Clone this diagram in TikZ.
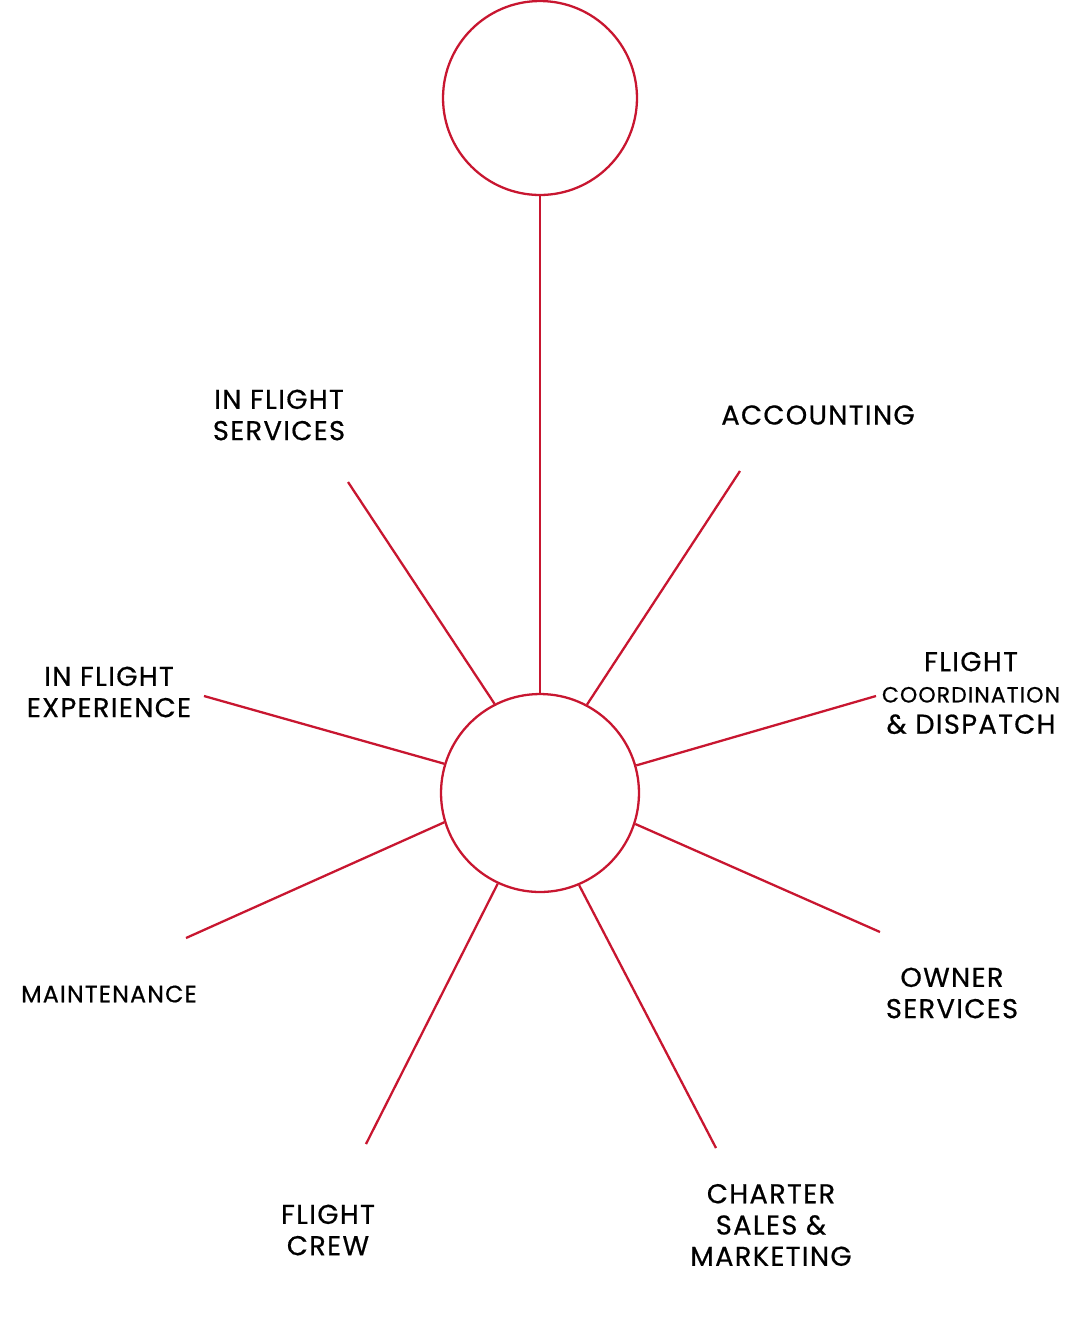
\documentclass[tikz,border=0pt]{standalone}
\usepackage{fontspec}
\setmainfont{Poppins}[FakeBold=0.6, LetterSpace=5]
\usepackage{tikz}
\usetikzlibrary{positioning}

\definecolor{jetred}{RGB}{200,22,48}

\begin{document}
\begin{tikzpicture}[
    x=0.02cm, y=-0.02cm,
    ring/.style={circle, draw=jetred, line width=1.3pt, inner sep=0pt},
    spoke/.style={draw=jetred, line width=1.3pt},
    dept/.style={align=center, font=\fontsize{15.5}{17.8}\selectfont, text=black}
]
\useasboundingbox (0,0) rectangle (1080,1340);

\node[ring, minimum size=3.88cm] (top) at (540,98) {};
\node[ring, minimum size=3.96cm] (hub) at (540,793) {};

% free ends of the spokes
\coordinate (e1) at (348,482);
\coordinate (e2) at (740,471);
\coordinate (e3) at (204,696);
\coordinate (e4) at (876,696);
\coordinate (e5) at (186,938);
\coordinate (e6) at (880,932);
\coordinate (e7) at (366,1144);
\coordinate (e8) at (716,1148);

\node[dept] (services) at (279,415) {IN FLIGHT\\SERVICES};
\node[dept] (accounting) at (818,415) {ACCOUNTING};
\node[dept] (experience) at (109,692) {IN FLIGHT\\EXPERIENCE};
\node[dept] (dispatch) at (971,693) {FLIGHT\\{\fontsize{12.5}{13}\selectfont COORDINATION}\\\& DISPATCH};
\node[dept, font=\fontsize{13.5}{15}\selectfont] (maintenance) at (109,994) {MAINTENANCE};
\node[dept] (owner) at (952,993) {OWNER\\SERVICES};
\node[dept] (crew) at (328,1230) {FLIGHT\\CREW};
\node[dept] (charter) at (771,1225) {CHARTER\\SALES \&\\MARKETING};

\draw[spoke] (top) -- (hub);
\foreach \a/\e in {117.6/e1, 62.4/e2, 163.7/e3, 16.3/e4, 197.4/e5, 342.6/e6, 245.9/e7, 293.5/e8}
    \draw[spoke] (hub.\a) -- (\e);

\end{tikzpicture}
\end{document}
